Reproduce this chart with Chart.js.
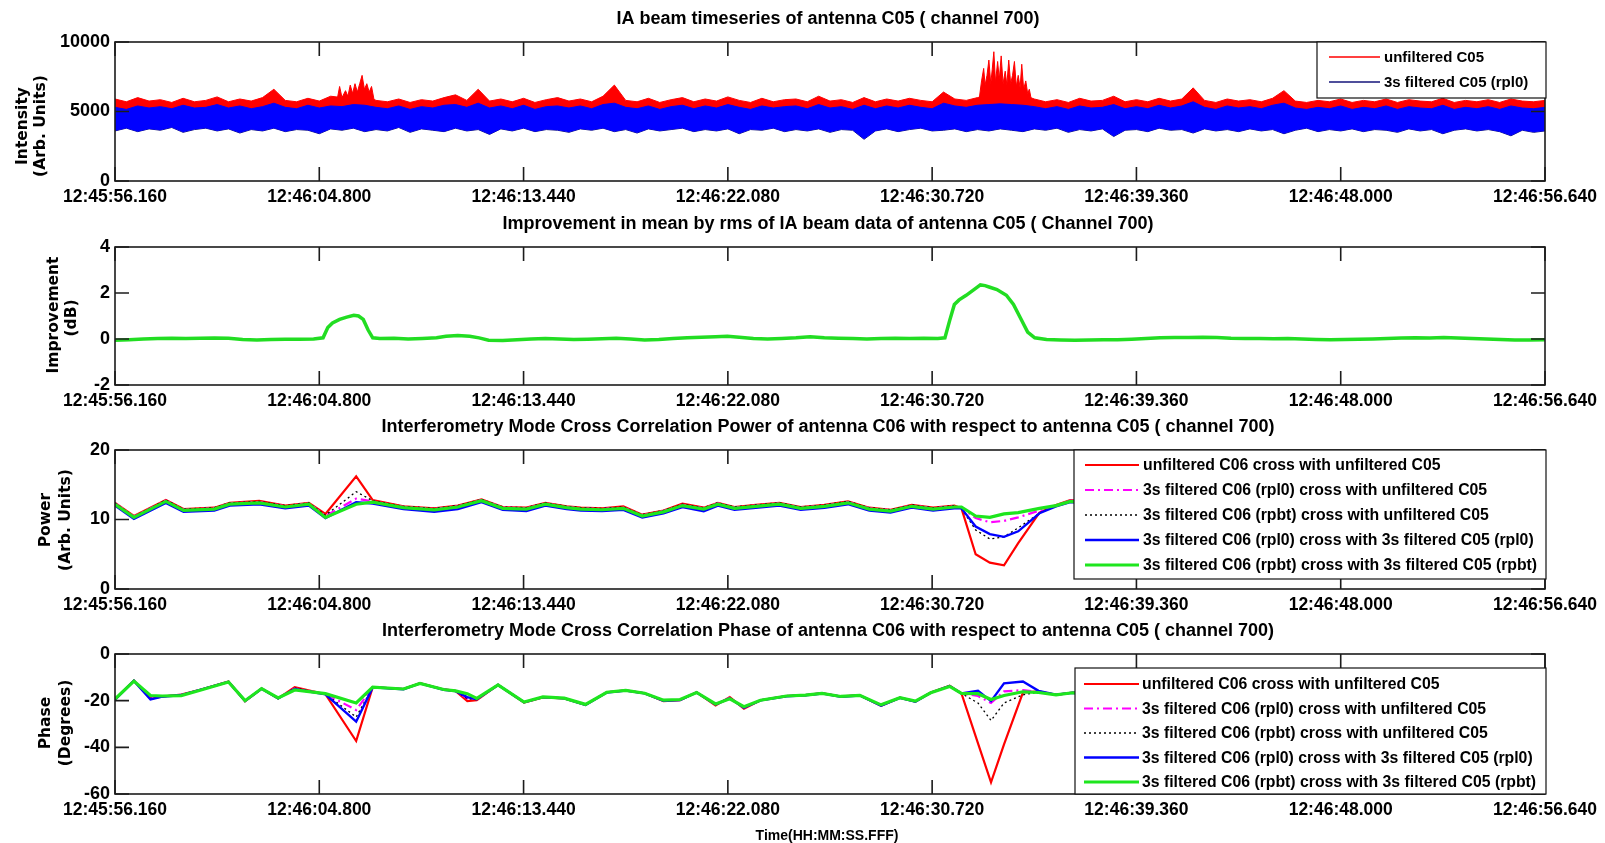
<!DOCTYPE html>
<html>
<head>
<meta charset="utf-8">
<script src="https://cdn.jsdelivr.net/npm/chart.js@4.4.0/dist/chart.umd.min.js"></script>
<style>
  html, body { margin: 0; padding: 0; background: #fff; }
  #wrap { position: relative; width: 1605px; height: 843px; overflow: hidden; }
  #wrap canvas { position: absolute; left: 0; top: 0; }
</style>
</head>
<body>
<div id="wrap">
  <canvas id="c1" width="1605" height="843"></canvas>
  <canvas id="c2" width="1605" height="843"></canvas>
  <canvas id="c3" width="1605" height="843"></canvas>
  <canvas id="c4" width="1605" height="843"></canvas>
</div>
<script>
// ---------------------------------
// Data
// ---------------------------------
const xTickValues = [0, 8.64, 17.28, 25.92, 34.56, 43.2, 51.84, 60.48];
const xTickLabels = ['12:45:56.160', '12:46:04.800', '12:46:13.440', '12:46:22.080',
                     '12:46:30.720', '12:46:39.360', '12:46:48.000', '12:46:56.640'];

// panel 1: envelope of the intensity noise, one value every 0.48 s
const INT_STEP = 0.48;
const redTop = [
  5900, 5700, 6000, 5750, 5850, 5650, 5950, 5700, 5800, 6050,
  5700, 5900, 5750, 6000, 6600, 5800, 5700, 5950, 5750, 6100,
  6000, 6300, 6200, 5800, 5700, 5900, 5650, 5850, 5750, 6000,
  6200, 5800, 6600, 5750, 5900, 5700, 5950, 5650, 5850, 6000,
  5750, 5900, 5700, 6100, 6900, 5800, 5700, 5950, 5650, 5850,
  6000, 5700, 5900, 5750, 6050, 5800, 5650, 5950, 5700, 5850,
  5900, 5700, 6100, 5750, 5850, 5650, 6000, 5700, 5900, 5750,
  5950, 5800, 5700, 6400, 5900, 5800, 6000, 6200, 6400, 6300,
  6200, 5900, 5700, 5850, 5650, 5950, 5750, 5800, 6100, 5700,
  5850, 5700, 5950, 5750, 5900, 6700, 5800, 5650, 5900, 5750,
  5850, 5700, 5950, 6500, 5750, 5650, 5800, 5700, 5900, 5650,
  5800, 5700, 5900, 5650, 5850, 5750, 5700, 5950, 5650, 5800,
  5700, 5850, 5650, 5900, 5750, 5700, 5800
];
const blueTop = [
  5300, 5150, 5400, 5250, 5350, 5200, 5450, 5250, 5300, 5500,
  5250, 5400, 5200, 5350, 5600, 5300, 5200, 5450, 5250, 5400,
  5350, 5500, 5450, 5300, 5200, 5400, 5150, 5350, 5250, 5450,
  5500, 5300, 5600, 5250, 5400, 5200, 5450, 5150, 5350, 5400,
  5250, 5400, 5200, 5500, 5600, 5300, 5200, 5400, 5150, 5350,
  5450, 5200, 5400, 5250, 5500, 5300, 5150, 5400, 5250, 5350,
  5400, 5200, 5500, 5250, 5350, 5150, 5450, 5200, 5400, 5250,
  5450, 5300, 5200, 5600, 5400, 5300, 5450, 5500, 5550, 5500,
  5450, 5350, 5200, 5350, 5150, 5400, 5250, 5300, 5500, 5200,
  5350, 5200, 5450, 5250, 5400, 5700, 5300, 5150, 5400, 5250,
  5350, 5200, 5450, 5600, 5250, 5150, 5300, 5200, 5400, 5150,
  5300, 5200, 5400, 5150, 5350, 5250, 5200, 5450, 5150, 5300,
  5200, 5350, 5150, 5400, 5250, 5200, 5300
];
const blueBottom = [
  3600, 3800, 3550, 3750, 3650, 3850, 3500, 3700, 3800, 3600,
  3750, 3450, 3700, 3600, 3800, 3550, 3700, 3650, 3400, 3750,
  3650, 3800, 3550, 3700, 3600, 3850, 3500, 3750, 3650, 3550,
  3800, 3600, 3700, 3350, 3750, 3600, 3800, 3550, 3700, 3650,
  3500, 3750, 3650, 3800, 3550, 3700, 3450, 3750, 3600, 3700,
  3800, 3550, 3700, 3600, 3750, 3400, 3700, 3650, 3800, 3550,
  3700, 3600, 3750, 3500, 3700, 3650, 3000, 3600, 3750, 3550,
  3700, 3800, 3600, 3650, 3750, 3550, 3700, 3600, 3750, 3650,
  3550, 3750, 3650, 3800, 3500, 3700, 3600, 3750, 3200, 3650,
  3700, 3550, 3800, 3650, 3700, 3450, 3750, 3600, 3700, 3550,
  3750, 3600, 3700, 3400, 3650, 3800, 3550, 3700, 3600, 3750,
  3550, 3700, 3650, 3500, 3750, 3600, 3700, 3400, 3650, 3750,
  3600, 3700, 3550, 3250, 3650, 3500, 3600
];
// RFI bursts in the unfiltered series (peaks and troughs)
const burst1Time  = [9.4, 9.5, 9.6, 9.75, 9.85, 9.95, 10.05, 10.15, 10.25, 10.35, 10.45, 10.55, 10.65, 10.75, 10.85, 10.95];
const burst1Value = [5900, 6800, 6000, 6500, 6100, 6900, 6300, 7000, 6400, 7000, 7600, 6600, 7000, 6400, 6800, 5900];
const burst2Time  = [36.55, 36.65, 36.74, 36.8, 36.88, 36.96, 37.04, 37.1, 37.17, 37.24, 37.33, 37.4, 37.48, 37.56, 37.65,
                     37.72, 37.8, 37.88, 37.96, 38.04, 38.12, 38.2, 38.28, 38.35, 38.43, 38.52, 38.6, 38.67, 38.75];
const burst2Value = [5900, 7200, 8100, 6900, 7600, 8700, 7000, 8000, 9300, 7100, 8600, 7300, 9000, 7000, 7900,
                     6900, 8700, 7000, 7600, 8600, 6800, 7600, 6700, 8400, 6600, 7200, 6300, 6600, 5900];

// panel 2: improvement (dB)
const impTime = [
  0, 0.6, 1.2, 1.8, 2.4, 3.0, 3.6, 4.2, 4.8, 5.4,
  6.0, 6.6, 7.2, 7.8, 8.4, 8.8, 9.0, 9.2, 9.5, 9.8,
  10.1, 10.3, 10.5, 10.7, 10.9, 11.2, 11.8, 12.4, 13.0, 13.6,
  14.0, 14.5, 15.0, 15.4, 15.8, 16.4, 17.0, 17.6, 18.2, 18.8,
  19.4, 20.0, 20.6, 21.2, 21.8, 22.4, 23.0, 23.6, 24.2, 24.8,
  25.4, 25.9, 26.4, 27.0, 27.6, 28.2, 28.8, 29.4, 30.0, 30.6,
  31.2, 31.8, 32.4, 33.0, 33.6, 34.2, 34.8, 35.1, 35.3, 35.5,
  35.7, 36.0, 36.4, 36.6, 36.8, 37.0, 37.3, 37.7, 38.0, 38.3,
  38.6, 38.9, 39.4, 40.0, 40.6, 41.2, 41.8, 42.4, 43.0, 43.6,
  44.2, 44.8, 45.4, 46.0, 46.6, 47.2, 47.8, 48.4, 49.0, 49.6,
  50.2, 50.8, 51.4, 52.0, 52.6, 53.2, 53.8, 54.4, 55.0, 55.6,
  56.2, 56.8, 57.4, 58.0, 58.6, 59.2, 59.8, 60.48
];
const impValue = [
  -0.05, -0.03, 0.0, 0.02, 0.03, 0.02, 0.03, 0.04, 0.03, -0.02,
  -0.04, -0.02, -0.01, -0.01, 0.0, 0.05, 0.5, 0.7, 0.85, 0.95,
  1.03, 1.0, 0.85, 0.4, 0.05, 0.02, 0.03, 0.0, 0.02, 0.05,
  0.12, 0.15, 0.12, 0.05, -0.05, -0.06, -0.03, 0.0, 0.02, 0.0,
  -0.02, -0.01, 0.01, 0.03, 0.0, -0.04, -0.02, 0.02, 0.05, 0.08,
  0.1, 0.12, 0.08, 0.02, 0.0, 0.02, 0.05, 0.1, 0.05, 0.03,
  0.02, 0.0, 0.02, 0.03, 0.02, 0.03, 0.02, 0.05, 0.8, 1.5,
  1.7, 1.9, 2.2, 2.35, 2.32, 2.25, 2.15, 1.9, 1.5, 0.9,
  0.3, 0.05, -0.02, -0.04, -0.05, -0.04, -0.03, -0.03, -0.01, 0.02,
  0.05, 0.06, 0.07, 0.08, 0.06, 0.03, 0.02, 0.02, 0.01, 0.02,
  0.0, -0.02, -0.03, -0.02, -0.01, 0.0, 0.02, 0.04, 0.05, 0.04,
  0.06, 0.04, 0.02, 0.0, -0.02, -0.04, -0.04, -0.03
];

// panel 3: cross correlation power
const powerTime = [
  0, 0.8, 2.15, 2.9, 4.2, 4.85, 6.1, 7.2, 8.2, 8.9,
  10.2, 10.9, 12.2, 13.5, 14.5, 15.5, 16.4, 17.4, 18.2, 19.1,
  19.7, 20.6, 21.5, 22.3, 23.2, 24.0, 24.9, 25.5, 26.2, 27.1,
  28.1, 29.0, 30.0, 31.0, 31.9, 32.8, 33.7, 34.6, 35.5, 35.8,
  36.4, 37.0, 37.6, 38.2, 39.1, 39.8, 40.4, 41.2
];
const powerUnf = [
  12.4, 10.5, 12.8, 11.5, 11.7, 12.4, 12.7, 12.0, 12.4, 10.8,
  16.2, 12.8, 11.9, 11.6, 12.0, 12.9, 11.8, 11.7, 12.4, 11.9,
  11.7, 11.6, 11.9, 10.7, 11.3, 12.3, 11.7, 12.4, 11.8, 12.1,
  12.4, 11.8, 12.1, 12.6, 11.7, 11.4, 12.1, 11.7, 12.0, 11.6,
  5.0, 3.8, 3.4, 6.6, 11.0, 12.1, 12.8, 12.6
];
const powerRpl0Unf = [
  12.3, 10.4, 12.7, 11.4, 11.6, 12.3, 12.5, 11.9, 12.3, 10.5,
  13.0, 12.6, 11.8, 11.5, 11.9, 12.8, 11.7, 11.6, 12.3, 11.8,
  11.6, 11.5, 11.7, 10.6, 11.2, 12.1, 11.6, 12.3, 11.7, 12.0,
  12.3, 11.7, 12.0, 12.5, 11.6, 11.3, 12.0, 11.6, 11.9, 11.7,
  10.2, 9.6, 9.8, 10.3, 11.3, 12.0, 12.7, 12.5
];
const powerRpbtUnf = [
  12.4, 10.4, 12.8, 11.5, 11.7, 12.4, 12.6, 12.0, 12.4, 10.6,
  14.0, 12.7, 11.9, 11.6, 12.0, 12.9, 11.8, 11.7, 12.4, 11.9,
  11.7, 11.6, 11.8, 10.7, 11.3, 12.2, 11.7, 12.4, 11.8, 12.1,
  12.4, 11.8, 12.1, 12.6, 11.7, 11.4, 12.1, 11.7, 12.0, 11.6,
  8.5, 7.2, 7.5, 8.8, 10.9, 12.0, 12.7, 12.5
];
const powerRpl0Rpl0 = [
  12.0, 10.1, 12.4, 11.1, 11.3, 12.0, 12.2, 11.6, 12.0, 10.2,
  12.5, 12.3, 11.5, 11.1, 11.5, 12.5, 11.4, 11.2, 12.0, 11.5,
  11.3, 11.2, 11.4, 10.3, 10.9, 11.8, 11.2, 12.0, 11.4, 11.7,
  12.0, 11.4, 11.7, 12.2, 11.3, 11.0, 11.7, 11.3, 11.6, 11.6,
  9.0, 7.9, 7.5, 8.3, 10.9, 11.9, 12.5, 12.3
];
const powerRpbtRpbt = [
  12.2, 10.3, 12.6, 11.3, 11.5, 12.2, 12.4, 11.8, 12.2, 10.3,
  12.2, 12.5, 11.7, 11.4, 11.8, 12.7, 11.6, 11.5, 12.2, 11.7,
  11.5, 11.4, 11.6, 10.5, 11.1, 12.0, 11.5, 12.2, 11.6, 11.9,
  12.2, 11.6, 11.9, 12.4, 11.5, 11.2, 11.9, 11.5, 11.8, 11.8,
  10.5, 10.3, 10.8, 11.0, 11.6, 12.0, 12.6, 12.4
];

// panel 4: cross correlation phase (degrees)
const phaseTime = [
  0, 0.8, 1.5, 2.0, 2.8, 3.6, 4.8, 5.5, 6.2, 6.9,
  7.6, 8.9, 10.2, 10.9, 12.2, 12.9, 13.9, 14.4, 14.9, 15.3,
  16.2, 17.3, 18.1, 19.0, 19.9, 20.8, 21.6, 22.4, 23.2, 23.9,
  24.6, 25.4, 26.0, 26.6, 27.3, 28.4, 29.2, 29.9, 30.7, 31.5,
  32.4, 33.2, 33.85, 34.5, 35.3, 35.8, 36.5, 37.05, 37.6, 38.4,
  39.06, 39.8, 40.5, 41.2
];
const phaseUnf = [
  -19.5, -11.4, -19.2, -18.2, -17.4, -15.3, -11.8, -20.2, -14.8, -19.0,
  -14.2, -17.2, -37.3, -14.2, -15.0, -12.5, -15.2, -15.8, -20.2, -19.8,
  -13.2, -20.8, -18.6, -19.0, -21.8, -16.4, -15.6, -16.8, -20.2, -19.8,
  -16.4, -22.0, -18.5, -23.4, -19.8, -18.0, -17.6, -16.8, -18.2, -17.7,
  -22.2, -18.7, -20.4, -16.5, -13.6, -16.9, -38.3, -55.0, -38.7, -16.5,
  -16.0, -17.5, -16.5, -17.0
];
const phaseRpl0Unf = [
  -19.4, -11.5, -18.8, -18.1, -17.6, -15.4, -11.9, -20.1, -14.8, -18.9,
  -14.8, -17.1, -24.0, -14.2, -15.0, -12.6, -15.2, -15.8, -19.0, -19.4,
  -13.2, -20.7, -18.5, -18.9, -21.7, -16.4, -15.6, -16.8, -20.0, -19.6,
  -16.4, -21.7, -18.8, -23.0, -19.8, -18.0, -17.6, -16.9, -18.2, -17.7,
  -22.0, -18.7, -20.3, -16.5, -13.8, -16.9, -18.0, -21.0, -16.0, -15.5,
  -16.2, -17.5, -16.6, -17.0
];
const phaseRpbtUnf = [
  -19.4, -11.5, -19.0, -18.1, -17.5, -15.4, -11.9, -20.1, -14.8, -18.9,
  -14.6, -17.1, -27.0, -14.2, -15.0, -12.6, -15.2, -15.8, -19.2, -19.5,
  -13.2, -20.7, -18.5, -18.9, -21.7, -16.4, -15.6, -16.8, -20.0, -19.7,
  -16.4, -21.8, -18.7, -23.1, -19.8, -18.0, -17.6, -16.8, -18.2, -17.7,
  -22.0, -18.7, -20.3, -16.5, -13.7, -16.9, -21.0, -28.5, -21.0, -17.5,
  -16.3, -17.5, -16.6, -17.0
];
const phaseRpl0Rpl0 = [
  -19.6, -11.5, -19.5, -18.3, -17.6, -15.4, -11.9, -20.1, -14.9, -19.0,
  -15.0, -17.3, -29.0, -14.3, -15.1, -12.6, -15.3, -15.9, -18.5, -19.4,
  -13.3, -20.7, -18.5, -19.0, -21.8, -16.5, -15.7, -16.9, -20.0, -19.7,
  -16.5, -21.6, -19.0, -23.0, -19.9, -18.1, -17.7, -16.9, -18.3, -17.8,
  -22.1, -18.8, -20.4, -16.6, -13.7, -16.9, -15.8, -20.2, -12.6, -11.8,
  -15.8, -17.4, -16.6, -17.0
];
const phaseRpbtRpbt = [
  -19.3, -11.6, -17.8, -18.0, -17.8, -15.5, -12.0, -20.0, -14.8, -18.8,
  -15.4, -17.0, -21.0, -14.2, -15.0, -12.6, -15.2, -15.8, -17.0, -19.0,
  -13.2, -20.6, -18.4, -18.9, -21.6, -16.4, -15.6, -16.8, -19.8, -19.5,
  -16.5, -21.4, -19.2, -22.6, -19.8, -18.0, -17.6, -16.9, -18.2, -17.7,
  -21.8, -18.7, -20.2, -16.6, -13.9, -16.9, -17.0, -19.5, -17.8, -16.2,
  -16.5, -17.5, -16.6, -17.0
];

const crossLabels = [
  'unfiltered C06 cross with unfiltered C05',
  '3s filtered C06 (rpl0) cross with unfiltered C05',
  '3s filtered C06 (rpbt) cross with unfiltered C05',
  '3s filtered C06 (rpl0) cross with 3s filtered C05 (rpl0)',
  '3s filtered C06 (rpbt) cross with 3s filtered C05 (rpbt)'
];

// ---------------------------------
// Helpers
// ---------------------------------
const FONT = "'Liberation Sans', Arial, Helvetica, sans-serif";
const LABEL_FONT = "'DejaVu Sans', Verdana, sans-serif";
const TICK = 14;

function pts(times, values) {
  return times.map((t, i) => ({ x: t, y: values[i] }));
}
function gridPts(values, step) {
  return values.map((v, i) => ({ x: i * step, y: v }));
}

function xScale() {
  return {
    type: 'linear', min: 0, max: 60.48,
    afterBuildTicks: s => { s.ticks = xTickValues.map(v => ({ value: v })); },
    afterFit: s => { s.height = 30; s.paddingLeft = 0; s.paddingRight = 0; },
    ticks: {
      autoSkip: false, maxRotation: 0, minRotation: 0, padding: 6, color: '#000',
      font: { family: FONT, size: 17.5, weight: 'bold' },
      callback: (v, i) => xTickLabels[i]
    },
    grid: { display: false, drawTicks: false },
    border: { display: false }
  };
}

function yScale(min, max, ticks) {
  return {
    type: 'linear', min: min, max: max,
    afterBuildTicks: s => { s.ticks = ticks.map(v => ({ value: v })); },
    afterFit: s => { s.width = 100; s.paddingTop = 0; s.paddingBottom = 0; },
    ticks: {
      padding: 5, color: '#000',
      font: { family: FONT, size: 18, weight: 'bold' },
      callback: v => String(v)
    },
    grid: { display: false, drawTicks: false },
    border: { display: false }
  };
}

// frame, inward ticks, legend box and texts, drawn MATLAB style
const matlabLook = {
  id: 'matlabLook',
  afterDatasetsDraw(chart) {
    const { ctx, chartArea: a } = chart;
    const x = chart.scales.x, y = chart.scales.y;
    ctx.save();
    ctx.strokeStyle = '#1c1c1c';
    ctx.lineWidth = 1.6;
    ctx.setLineDash([]);
    ctx.beginPath();
    x.ticks.forEach(t => {
      const px = x.getPixelForValue(t.value);
      ctx.moveTo(px, a.bottom); ctx.lineTo(px, a.bottom - TICK);
      ctx.moveTo(px, a.top); ctx.lineTo(px, a.top + TICK);
    });
    y.ticks.forEach(t => {
      const py = y.getPixelForValue(t.value);
      ctx.moveTo(a.left, py); ctx.lineTo(a.left + TICK, py);
      ctx.moveTo(a.right, py); ctx.lineTo(a.right - TICK, py);
    });
    ctx.stroke();
    ctx.strokeRect(a.left, a.top, a.right - a.left, a.bottom - a.top);
    ctx.restore();
  },
  afterDraw(chart) {
    const o = chart.options.plugins.matlabLook;
    const ctx = chart.ctx;
    ctx.save();
    ctx.fillStyle = '#000';
    ctx.textBaseline = 'middle';

    // title
    ctx.font = 'bold 18px ' + FONT;
    ctx.textAlign = 'center';
    ctx.fillText(o.title[0], o.title[1], o.title[2]);

    // y label lines, rotated
    ctx.font = 'bold 15.5px ' + LABEL_FONT;
    o.ylabel.forEach(l => {
      ctx.save();
      ctx.translate(l[1], l[2]);
      ctx.rotate(-Math.PI / 2);
      ctx.fillText(l[0], 0, 0);
      ctx.restore();
    });

    if (o.xlabel) {
      ctx.font = 'bold 14px ' + FONT;
      ctx.fillText(o.xlabel[0], o.xlabel[1], o.xlabel[2]);
    }

    // legend
    const lg = o.legend;
    if (lg) {
      const [x1, y1, x2, y2] = lg.box;
      ctx.fillStyle = '#fff';
      ctx.fillRect(x1, y1, x2 - x1, y2 - y1);
      ctx.strokeStyle = '#111';
      ctx.lineWidth = 1.2;
      ctx.strokeRect(x1, y1, x2 - x1, y2 - y1);
      ctx.font = 'bold ' + lg.fontSize + 'px ' + FONT;
      ctx.textAlign = 'left';
      lg.items.forEach((it, i) => {
        const ds = chart.data.datasets[it.dataset];
        const ry = lg.rows[i];
        ctx.strokeStyle = it.color || ds.borderColor;
        ctx.lineWidth = it.width || ds.borderWidth;
        ctx.setLineDash(ds.borderDash || []);
        ctx.beginPath();
        ctx.moveTo(lg.sample[0], ry);
        ctx.lineTo(lg.sample[1], ry);
        ctx.stroke();
        ctx.setLineDash([]);
        ctx.fillStyle = '#000';
        ctx.fillText(ds.label, lg.textX, ry + 1);
      });
    }
    ctx.restore();
  }
};

function baseOptions(top, bottom, look, yCfg) {
  return {
    responsive: false,
    animation: false,
    events: [],
    layout: { padding: { left: 15, right: 60, top: top, bottom: 843 - bottom - 30 } },
    elements: { point: { radius: 0 }, line: { tension: 0 } },
    scales: { x: xScale(), y: yCfg },
    plugins: { legend: { display: false }, tooltip: { enabled: false }, matlabLook: look }
  };
}

function crossDatasets(times, series) {
  const styles = [
    { borderColor: '#ff0000', borderWidth: 2.2, order: 4 },
    { borderColor: '#ff00ff', borderWidth: 2.2, borderDash: [9, 4, 2, 4], order: 3 },
    { borderColor: '#000000', borderWidth: 1.3, borderDash: [2, 3], order: 2 },
    { borderColor: '#0000ff', borderWidth: 2.4, order: 1 },
    { borderColor: '#1ee61e', borderWidth: 3.2, order: 0 }
  ];
  return series.map((vals, i) => Object.assign({
    label: crossLabels[i], data: pts(times, vals), fill: false
  }, styles[i]));
}

// ---------------------------------
// Panel 1: intensity timeseries
// ---------------------------------
new Chart(document.getElementById('c1'), {
  type: 'line',
  data: {
    datasets: [
      { label: '3s filtered C05 (rpl0)', data: gridPts(blueTop, INT_STEP), borderColor: '#0000ff',
        borderWidth: 1, backgroundColor: '#0000ff', fill: 1, order: 0 },
      { label: 'blue lower', data: gridPts(blueBottom, INT_STEP), borderColor: '#14147a',
        borderWidth: 1, fill: false, order: 1 },
      { label: 'unfiltered C05', data: gridPts(redTop, INT_STEP), borderColor: '#ff0000',
        borderWidth: 1, backgroundColor: '#ff0000', fill: { value: 4500 }, order: 2 },
      { label: 'burst 1', data: pts(burst1Time, burst1Value), borderColor: '#ff0000',
        borderWidth: 1, backgroundColor: '#ff0000', fill: { value: 4500 }, order: 3 },
      { label: 'burst 2', data: pts(burst2Time, burst2Value), borderColor: '#ff0000',
        borderWidth: 1, backgroundColor: '#ff0000', fill: { value: 4500 }, order: 4 }
    ]
  },
  options: baseOptions(42, 181, {
    title: ['IA beam timeseries of antenna C05 ( channel 700)', 828, 19],
    ylabel: [['Intensity', 23, 126], ['(Arb. Units)', 41, 126]],
    legend: {
      box: [1317, 42, 1546, 98], rows: [57, 82], sample: [1329, 1380], textX: 1384, fontSize: 15,
      items: [{ dataset: 2, width: 1.5 }, { dataset: 0, color: '#14147a', width: 1.5 }]
    }
  }, yScale(0, 10000, [0, 5000, 10000])),
  plugins: [matlabLook]
});

// ---------------------------------
// Panel 2: improvement
// ---------------------------------
new Chart(document.getElementById('c2'), {
  type: 'line',
  data: {
    datasets: [{ label: 'improvement', data: pts(impTime, impValue), borderColor: '#22dd22',
                 borderWidth: 3.5, fill: false }]
  },
  options: baseOptions(247, 385, {
    title: ['Improvement in mean by rms of IA beam data of antenna C05 ( Channel 700)', 828, 224],
    ylabel: [['Improvement', 54, 315], ['(dB)', 72, 318]]
  }, yScale(-2, 4, [-2, 0, 2, 4])),
  plugins: [matlabLook]
});

// ---------------------------------
// Panel 3: cross correlation power
// ---------------------------------
new Chart(document.getElementById('c3'), {
  type: 'line',
  data: {
    datasets: crossDatasets(powerTime, [powerUnf, powerRpl0Unf, powerRpbtUnf, powerRpl0Rpl0, powerRpbtRpbt])
  },
  options: baseOptions(450, 589, {
    title: ['Interferometry Mode Cross Correlation Power of antenna C06 with respect to antenna C05 ( channel 700)', 828, 427],
    ylabel: [['Power', 46, 520], ['(Arb. Units)', 66, 520]],
    legend: {
      box: [1074, 450, 1546, 579], rows: [465, 490, 515, 540, 565], sample: [1085, 1139], textX: 1143, fontSize: 15.8,
      items: [{ dataset: 0 }, { dataset: 1 }, { dataset: 2 }, { dataset: 3 }, { dataset: 4 }]
    }
  }, yScale(0, 20, [0, 10, 20])),
  plugins: [matlabLook]
});

// ---------------------------------
// Panel 4: cross correlation phase
// ---------------------------------
new Chart(document.getElementById('c4'), {
  type: 'line',
  data: {
    datasets: crossDatasets(phaseTime, [phaseUnf, phaseRpl0Unf, phaseRpbtUnf, phaseRpl0Rpl0, phaseRpbtRpbt])
  },
  options: baseOptions(654, 794, {
    title: ['Interferometry Mode Cross Correlation Phase of antenna C06 with respect to antenna C05 ( channel 700)', 828, 631],
    ylabel: [['Phase', 46, 723], ['(Degrees)', 66, 723]],
    xlabel: ['Time(HH:MM:SS.FFF)', 827, 836],
    legend: {
      box: [1075, 668, 1546, 794], rows: [684, 708.5, 733, 757.5, 782], sample: [1084, 1139], textX: 1142, fontSize: 15.8,
      items: [{ dataset: 0 }, { dataset: 1 }, { dataset: 2 }, { dataset: 3 }, { dataset: 4 }]
    }
  }, yScale(-60, 0, [-60, -40, -20, 0])),
  plugins: [matlabLook]
});
</script>
</body>
</html>
